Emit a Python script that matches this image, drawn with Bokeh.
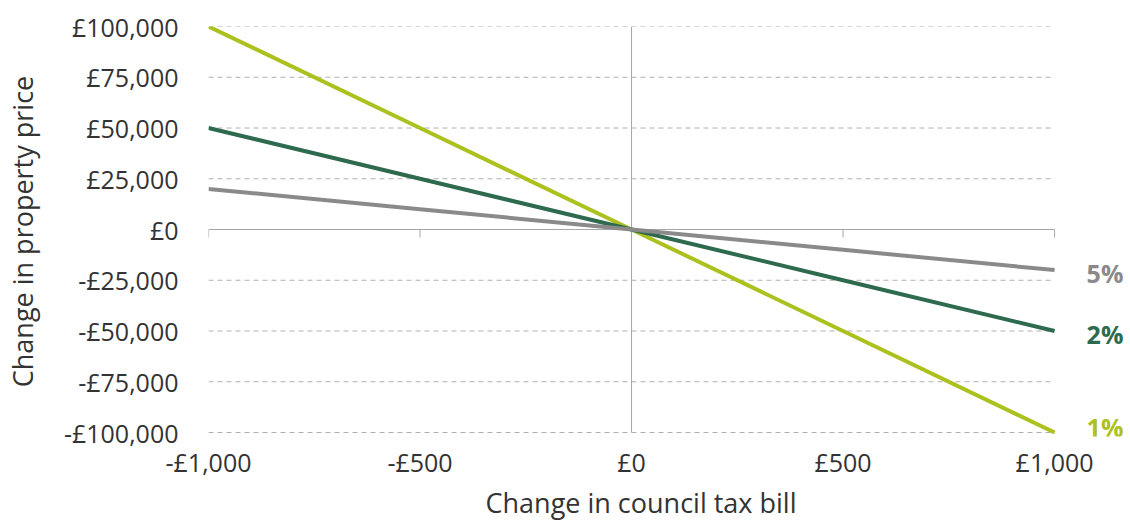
from bokeh.plotting import figure
from bokeh.models import Range1d, FixedTicker, Label, Title
from bokeh.embed import file_html
from bokeh.resources import INLINE

# Data
council_tax_change = [-1000, -500, 0, 500, 1000]
price_1pct = [100000, 50000, 0, -50000, -100000]
price_2pct = [50000, 25000, 0, -25000, -50000]
price_5pct = [20000, 10000, 0, -10000, -20000]
series_names = ["1%", "2%", "5%"]

x_ticks = [-1000, -500, 0, 500, 1000]
x_tick_labels = ["-£1,000", "-£500", "£0", "£500", "£1,000"]
y_ticks = [-100000, -75000, -50000, -25000, 0, 25000, 50000, 75000, 100000]
y_tick_labels = ["-£100,000", "-£75,000", "-£50,000", "-£25,000", "£0",
                 "£25,000", "£50,000", "£75,000", "£100,000"]

C_1 = "#adc11e"
C_2 = "#2e6a4d"
C_5 = "#8a8a8a"
AXC = "#a6a6a6"
TEXT = "#333333"
FONT = "Open Sans"

W, H = 1130, 520
LEFT, TOP, RIGHT_DATA_PX, BOTTOM = 207, 26, 1054, 84
ymin, ymax = min(y_ticks), max(y_ticks)
xmin, xmax = min(council_tax_change), max(council_tax_change)
px_per_unit = (RIGHT_DATA_PX - LEFT) / (xmax - xmin)
x_end = xmin + (W - LEFT) / px_per_unit
y_pad = (ymax - ymin) * 4 / 406

p = figure(width=W, height=H, output_backend="svg", toolbar_location=None,
           x_range=Range1d(xmin, x_end), y_range=Range1d(ymin - y_pad, ymax),
           min_border_left=LEFT, min_border_right=0, min_border_top=TOP,
           min_border_bottom=BOTTOM)
p.outline_line_color = None
p.background_fill_color = "white"
p.border_fill_color = "white"

# axes
p.xaxis.ticker = FixedTicker(ticks=x_ticks)
p.xaxis.major_label_overrides = {t: l for t, l in zip(x_ticks, x_tick_labels)}
p.yaxis.ticker = FixedTicker(ticks=y_ticks)
p.yaxis.major_label_overrides = {t: l for t, l in zip(y_ticks, y_tick_labels)}
for ax in (p.xaxis, p.yaxis):
    ax.axis_line_color = None
    ax.major_tick_line_color = None
    ax.minor_tick_line_color = None
    ax.major_label_text_font = FONT
    ax.major_label_text_font_size = "25px"
    ax.major_label_text_color = TEXT
    ax.axis_label_text_font = FONT
    ax.axis_label_text_font_size = "27px"
    ax.axis_label_text_font_style = "normal"
    ax.axis_label_text_color = TEXT
p.yaxis.axis_label = "Change in property price"
p.xaxis.major_label_standoff = 2
p.yaxis.major_label_standoff = 24
p.yaxis.axis_label_standoff = 20

p.add_layout(Title(text="Change in council tax bill", align="left",
                   offset=277, text_font=FONT, text_font_size="27px",
                   text_font_style="normal", text_color=TEXT, standoff=0), "below")

p.xgrid.grid_line_color = None
p.ygrid.grid_line_color = None

# dashed gridlines only over the data span
grid_vals = [v for v in y_ticks if v != 0]
p.segment(x0=[xmin] * len(grid_vals), x1=[xmax] * len(grid_vals),
          y0=grid_vals, y1=grid_vals, line_color="#b0b0b0", line_width=1,
          line_dash="5 4")

# zero axes
p.segment(x0=[xmin], x1=[xmax], y0=[0], y1=[0], line_color=AXC, line_width=1)
p.segment(x0=[0], x1=[0], y0=[ymin], y1=[ymax], line_color=AXC, line_width=1)
tick_len = (ymax - ymin) / 406 * 8
p.segment(x0=x_ticks, x1=x_ticks, y0=[0] * len(x_ticks), y1=[-tick_len] * len(x_ticks),
          line_color=AXC, line_width=1)

# series
for vals, col in ((price_1pct, C_1), (price_2pct, C_2), (price_5pct, C_5)):
    p.line(council_tax_change, vals, line_color=col, line_width=4)

for name, vals, col, dy in zip(series_names, (price_1pct, price_2pct, price_5pct),
                               (C_1, C_2, C_5), (6, -3, -3)):
    p.add_layout(Label(x=council_tax_change[-1], y=vals[-1], text=name,
                       x_offset=32, y_offset=dy,
                       text_font=FONT, text_font_size="25px", text_font_style="bold",
                       text_color=col, text_baseline="middle", text_align="left"))

open("out.html", "w").write(file_html(p, INLINE))
